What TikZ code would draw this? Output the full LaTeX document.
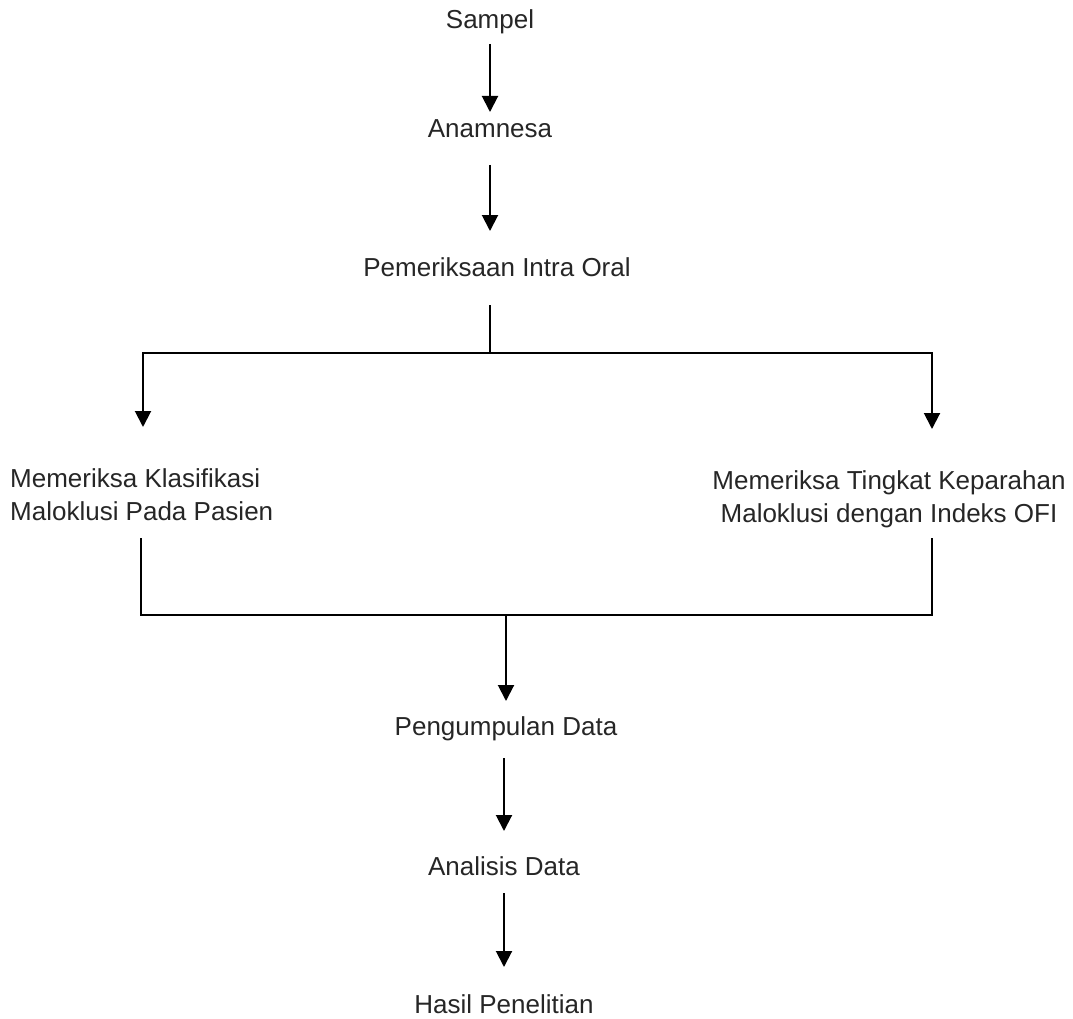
\documentclass[tikz,border=0pt]{standalone}
\usepackage{fontspec}
\setmainfont{Liberation Sans}
\usetikzlibrary{arrows.meta}
\begin{document}
\begin{tikzpicture}[x=1pt,y=-1pt,
  lbl/.style={inner sep=0pt,font=\fontsize{26}{33}\selectfont,text=black!85},
  conn/.style={line width=2pt,black},
  arr/.style={conn,-{Triangle[width=16pt,length=16pt]}}]
\useasboundingbox (0,0) rectangle (1073,1019);
\node[lbl,anchor=base] (s) at (490,29) {Sampel};
\node[lbl,anchor=base] (a) at (490,138) {Anamnesa};
\node[lbl,anchor=base] (p) at (497,276) {Pemeriksaan Intra Oral};
\node[lbl,anchor=base west,align=left] (k) at (10,520) {Memeriksa Klasifikasi\\Maloklusi Pada Pasien};
\node[lbl,anchor=base,align=center] (t) at (889,522) {Memeriksa Tingkat Keparahan\\Maloklusi dengan Indeks OFI};
\node[lbl,anchor=base] (g) at (506,735) {Pengumpulan Data};
\node[lbl,anchor=base] (d) at (504,875) {Analisis Data};
\node[lbl,anchor=base] (h) at (504,1013) {Hasil Penelitian};
\coordinate (s1) at (490,44);
\coordinate (s2) at (490,112);
\coordinate (a1) at (490,165);
\coordinate (a2) at (490,231);
\coordinate (p1) at (490,305);
\coordinate (p2) at (490,353);
\coordinate (bl) at (143,353);
\coordinate (br) at (932,353);
\coordinate (kl) at (143,427);
\coordinate (tr) at (932,429);
\coordinate (k1) at (141,538);
\coordinate (t1) at (932,538);
\coordinate (ml) at (141,615);
\coordinate (mr) at (932,615);
\coordinate (mc) at (506,615);
\coordinate (g0) at (506,701);
\coordinate (g1) at (504,758);
\coordinate (g2) at (504,831);
\coordinate (d1) at (504,893);
\coordinate (d2) at (504,967);
\draw[arr] (s1) -- (s2);
\draw[arr] (a1) -- (a2);
\draw[conn] (p1) -- (p2);
\draw[arr] (p2) -- (bl) -- (kl);
\draw[arr] (p2) -- (br) -- (tr);
\draw[conn] (k1) -- (ml) -- (mr) -- (t1);
\draw[arr] (mc) -- (g0);
\draw[arr] (g1) -- (g2);
\draw[arr] (d1) -- (d2);
\end{tikzpicture}
\end{document}
